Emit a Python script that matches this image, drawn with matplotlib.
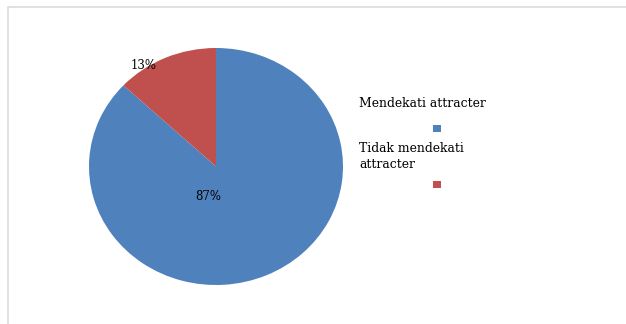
import matplotlib
matplotlib.use("Agg")
import matplotlib.pyplot as plt
from matplotlib.patches import Rectangle

categories = ["Mendekati attracter", "Tidak mendekati\nattracter"]
shares = [87, 13]
colors = ["#4F81BD", "#C0504D"]

W, H = 626, 324
fig = plt.figure(figsize=(W / 100, H / 100), dpi=100)
fig.patch.set_facecolor("white")

# chart-area border (light grey, runs off right/bottom edges)
fig.add_artist(Rectangle((8 / W, -0.05), 1.2, (H - 7) / H + 0.05, transform=fig.transFigure,
                         fill=False, edgecolor="#dcdcdc", lw=1.2))

# pie is slightly stretched horizontally, so aspect is left free
ax = fig.add_axes([89 / W, (H - 285) / H, 254 / W, 237 / H])
wedges, texts, autotexts = ax.pie(shares, colors=colors, startangle=90, counterclock=False,
                                  autopct="%d%%", pctdistance=0.5,
                                  textprops=dict(family="DejaVu Serif", fontsize=8.5))
ax.set_aspect("auto")
ax.set_xlim(-1, 1)
ax.set_ylim(-1, 1)
# manual label placement like the original
autotexts[0].set_position((-0.06, -0.25))
autotexts[1].set_position((-0.57, 0.85))

# legend: label text with the colour key below it
font = dict(family="DejaVu Serif", fontsize=8.9, color="black")
fig.text(359 / W, 1 - 103 / H, categories[0], va="center", ha="left", **font)
fig.add_artist(Rectangle((433 / W, 1 - 132 / H), 8 / W, 7 / H, transform=fig.transFigure,
                         facecolor=colors[0], edgecolor="none"))
fig.text(359 / W, 1 - 157 / H, categories[1], va="center", ha="left", linespacing=1.3, **font)
fig.add_artist(Rectangle((433 / W, 1 - 188 / H), 8 / W, 7 / H, transform=fig.transFigure,
                         facecolor=colors[1], edgecolor="none"))

fig.savefig("out.png", dpi=100)
